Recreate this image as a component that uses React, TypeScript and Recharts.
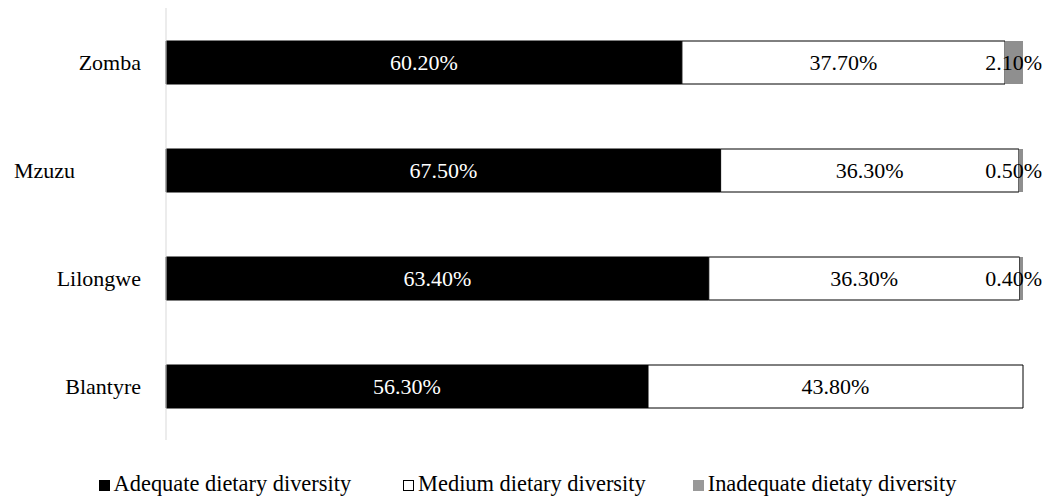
import React from 'react';
import { BarChart, Bar, XAxis, YAxis, Legend, LabelList } from 'recharts';

// Districts, listed top to bottom
const districts = ['Zomba', 'Mzuzu\u00a0\u00a0\u00a0\u00a0\u00a0\u00a0\u00a0\u00a0\u00a0\u00a0\u00a0\u00a0', 'Lilongwe', 'Blantyre'];

// Share of households per dietary diversity level (%)
const adequate = [60.2, 67.5, 63.4, 56.3];
const medium = [37.7, 36.3, 36.3, 43.8];
const inadequate = [2.1, 0.5, 0.4, 0];

const seriesNames = ['Adequate dietary diversity', 'Medium dietary diversity', 'Inadequate dietaty diversity'];

const FONT = 'Liberation Serif, Tinos, DejaVu Serif, serif';
const GRAY = '#8f8f8f';
// labels that would spill past this x are pulled back inside the chart
const LABEL_RIGHT_LIMIT = 1042;
const LABEL_HALF_WIDTH = 29;

const data = districts.map((d, i) => ({
  district: d,
  adequate: adequate[i],
  medium: medium[i],
  inadequate: inadequate[i],
}));

const fmt = (v: number) => `${v.toFixed(2)}%`;

const makeLabel = (values: number[], color: string) => (props: any) => {
  const { x, y, width, height, index } = props;
  const v = values[index];
  if (!v) return null;
  const cx = Number(x) + Number(width) / 2;
  const overflow = cx + LABEL_HALF_WIDTH > LABEL_RIGHT_LIMIT;
  return (
    <text
      x={overflow ? LABEL_RIGHT_LIMIT : cx}
      y={Number(y) + Number(height) / 2}
      dy={7}
      textAnchor={overflow ? 'end' : 'middle'}
      fill={color}
      style={{ fontFamily: FONT, fontSize: 22 }}
    >
      {fmt(v)}
    </text>
  );
};

const legendItems = [
  { name: seriesNames[0], fill: '#000000', stroke: '#000000', gap: 0 },
  { name: seriesNames[1], fill: '#ffffff', stroke: '#000000', gap: 52 },
  { name: seriesNames[2], fill: '#999999', stroke: '#999999', gap: 47 },
];

const LegendContent = () => (
  <div
    style={{
      display: 'flex',
      justifyContent: 'center',
      alignItems: 'flex-end',
      height: '100%',
      paddingLeft: 9,
      boxSizing: 'border-box',
      fontFamily: FONT,
      fontSize: 22.4,
      color: '#000',
    }}
  >
    {legendItems.map((it) => (
      <div
        key={it.name}
        style={{ display: 'flex', alignItems: 'center', marginLeft: it.gap, lineHeight: '25px', paddingBottom: 3 }}
      >
        <span
          style={{
            display: 'inline-block',
            width: 9,
            height: 9,
            background: it.fill,
            border: `1px solid ${it.stroke}`,
            marginRight: 4,
            marginTop: 3,
          }}
        />
        <span>{it.name}</span>
      </div>
    ))}
  </div>
);

export default function App() {
  return (
    <div style={{ position: 'absolute', left: 0, top: 0, width: 1046, height: 499, background: '#fff', fontFamily: FONT }}>
      <BarChart
        width={1046}
        height={499}
        data={data}
        layout="vertical"
        stackOffset="expand"
        margin={{ top: 8, right: 23, left: 0, bottom: 0 }}
        style={{ fontFamily: FONT }}
      >
        <XAxis type="number" hide domain={[0, 1]} />
        <YAxis
          type="category"
          dataKey="district"
          width={166}
          axisLine={{ stroke: '#d9d9d9', strokeWidth: 1 }}
          tickLine={false}
          tickSize={0}
          tickMargin={25}
          tick={{ fill: '#000', fontSize: 22, style: { fontFamily: FONT } }}
          interval={0}
        />
        <Legend verticalAlign="bottom" height={59} content={<LegendContent />} wrapperStyle={{ left: 0, width: 1046 }} />
        <Bar dataKey="adequate" stackId="s" fill="#000000" stroke="#000000" barSize={43} isAnimationActive={false}>
          <LabelList dataKey="adequate" content={makeLabel(adequate, '#ffffff')} />
        </Bar>
        <Bar dataKey="medium" stackId="s" fill="#ffffff" stroke="#000000" strokeWidth={1} barSize={43} isAnimationActive={false}>
          <LabelList dataKey="medium" content={makeLabel(medium, '#000000')} />
        </Bar>
        <Bar dataKey="inadequate" stackId="s" fill={GRAY} barSize={43} isAnimationActive={false}>
          <LabelList dataKey="inadequate" content={makeLabel(inadequate, '#000000')} />
        </Bar>
      </BarChart>
    </div>
  );
}
